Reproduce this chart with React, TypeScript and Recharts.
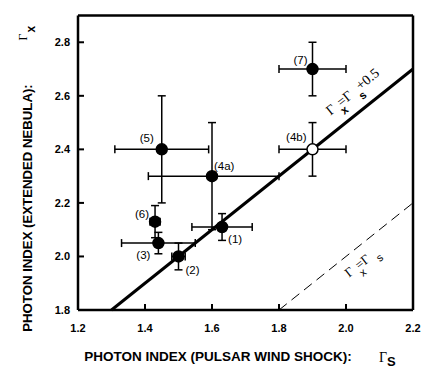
import {
  ErrorBar,
  ReferenceDot,
  ReferenceLine,
  Scatter,
  ScatterChart,
  XAxis,
  YAxis,
} from "recharts";

// photon indices
const pointNames = ["(1)", "(2)", "(3)", "(4a)", "(4b)", "(5)", "(6)", "(7)"];
const gammaS = [1.63, 1.5, 1.44, 1.6, 1.9, 1.45, 1.43, 1.9];
const gammaX = [2.11, 2.0, 2.05, 2.3, 2.4, 2.4, 2.13, 2.7];
const gammaSErrLow = [0.09, 0.02, 0.11, 0.19, 0.1, 0.14, 0.015, 0.1];
const gammaSErrHigh = [0.09, 0.02, 0.11, 0.2, 0.1, 0.14, 0.015, 0.1];
const gammaXErrLow = [0.05, 0.05, 0.04, 0.2, 0.1, 0.2, 0.06, 0.1];
const gammaXErrHigh = [0.05, 0.05, 0.04, 0.2, 0.1, 0.2, 0.06, 0.1];
const openPoints = ["(4b)"];

// Γx = Γs + 0.5 and Γx = Γs
const offsetLineS = [1.3, 2.2];
const offsetLineX = [1.8, 2.7];
const equalLineS = [1.8, 2.2];
const equalLineX = [1.8, 2.2];

const xTicks = [1.2, 1.4, 1.6, 1.8, 2.0, 2.2];
const yTicks = [1.8, 2.0, 2.2, 2.4, 2.6, 2.8];

const sans = "'Liberation Sans', Arial, sans-serif";
const serif = "'Liberation Serif', 'Times New Roman', serif";
const lineAngle = -38.6;

// where each point label sits relative to its marker
const labelOffsets: Record<string, [number, number, "start" | "end"]> = {
  "(1)": [6, 16, "start"],
  "(2)": [7, 18, "start"],
  "(3)": [-8, 16, "end"],
  "(4a)": [2, -6, "start"],
  "(4b)": [-6, -8, "end"],
  "(5)": [-8, -7, "end"],
  "(6)": [-6, -4, "end"],
  "(7)": [-5, -5, "end"],
};

const data = pointNames.map((name, i) => ({
  name,
  s: gammaS[i],
  x: gammaX[i],
  errS: [gammaSErrLow[i], gammaSErrHigh[i]],
  errX: [gammaXErrLow[i], gammaXErrHigh[i]],
  open: openPoints.includes(name),
}));

const axisLine = { stroke: "#000", strokeWidth: 2.5 };
const tickLine = { stroke: "#000", strokeWidth: 2 };
const tickStyle = { fontFamily: sans, fontSize: 11, fontWeight: "bold", fill: "#000" };
const fmt = (v: number) => v.toFixed(1);

function renderPoint(props: any) {
  const { cx, cy, payload } = props;
  const [dx, dy, anchor] = labelOffsets[payload.name];
  return (
    <g>
      <circle
        cx={cx}
        cy={cy}
        r={5.5}
        fill={payload.open ? "#fff" : "#000"}
        stroke="#000"
        strokeWidth={1.5}
      />
      <text
        x={cx + dx}
        y={cy + dy}
        textAnchor={anchor}
        fontFamily={sans}
        fontSize={11.5}
        fill="#000"
      >
        {payload.name}
      </text>
    </g>
  );
}

function OffsetLineLabel(props: any) {
  const { cx, cy } = props;
  return (
    <text
      x={cx}
      y={cy}
      transform={`rotate(${lineAngle} ${cx} ${cy})`}
      fontFamily={serif}
      fontSize={14}
      fill="#000"
    >
      Γ
      <tspan fontFamily={sans} fontWeight="bold" fontSize={11.5} dx={3} dy={8}>
        x
      </tspan>
      <tspan dx={-4} dy={-8}>=Γ</tspan>
      <tspan fontFamily={sans} fontWeight="bold" fontSize={11.5} dx={5} dy={8}>
        s
      </tspan>
      <tspan dx={-2} dy={-9}>+0.5</tspan>
    </text>
  );
}

function EqualLineLabel(props: any) {
  const { cx, cy } = props;
  return (
    <text
      x={cx}
      y={cy}
      transform={`rotate(${lineAngle} ${cx} ${cy})`}
      fontFamily={serif}
      fontSize={13}
      fill="#000"
    >
      Γ
      <tspan fontFamily={sans} fontSize={11} dx={4} dy={8}>
        x
      </tspan>
      <tspan dx={-4} dy={-8}>=Γ</tspan>
      <tspan fontFamily={sans} fontSize={11} dx={6} dy={7}>
        s
      </tspan>
    </text>
  );
}

function XTitle(props: any) {
  const { x, y } = props.viewBox;
  return (
    <g>
      <text
        x={x + 140}
        y={y + 51}
        textAnchor="middle"
        fontFamily={sans}
        fontSize={13.5}
        fontWeight="bold"
        fill="#000"
      >
        PHOTON INDEX (PULSAR WIND SHOCK):
      </text>
      <text x={x + 301} y={y + 52} fontFamily={serif} fontSize={14} fill="#000">
        Γ
        <tspan fontFamily={sans} fontWeight="bold" fontSize={13} dy={4}>
          S
        </tspan>
      </text>
    </g>
  );
}

function YTitle(props: any) {
  const { x, y } = props.viewBox;
  const cx = x + 24;
  const cy = y + 192.5;
  const gx = x + 19;
  const gy = y + 25;
  return (
    <g>
      <text
        x={cx}
        y={cy}
        transform={`rotate(-90 ${cx} ${cy})`}
        textAnchor="middle"
        fontFamily={sans}
        fontSize={13.2}
        fontWeight="bold"
        fill="#000"
      >
        PHOTON INDEX (EXTENDED NEBULA):
      </text>
      <text
        x={gx}
        y={gy}
        transform={`rotate(-90 ${gx} ${gy})`}
        fontFamily={serif}
        fontSize={12}
        fill="#000"
      >
        Γ
        <tspan fontFamily={sans} fontWeight="bold" fontSize={12} dx={1} dy={8}>
          x
        </tspan>
      </text>
    </g>
  );
}

export default function App() {
  return (
    <div style={{ background: "#fff" }}>
      <ScatterChart
        width={420}
        height={361}
        margin={{ top: 6.5, right: 14, bottom: 0, left: 0 }}
      >
        <XAxis
          type="number"
          dataKey="s"
          domain={[1.2, 2.2]}
          ticks={xTicks}
          tickFormatter={fmt}
          height={59}
          tickSize={-6}
          tickMargin={20}
          axisLine={axisLine}
          tickLine={tickLine}
          tick={tickStyle}
          label={{ content: XTitle }}
        />
        <XAxis
          xAxisId="top"
          orientation="top"
          type="number"
          domain={[1.2, 2.2]}
          ticks={xTicks}
          height={1}
          tickSize={-6}
          axisLine={axisLine}
          tickLine={tickLine}
          tick={false}
        />
        <YAxis
          type="number"
          dataKey="x"
          domain={[1.8, 2.9]}
          ticks={yTicks}
          tickFormatter={fmt}
          width={70}
          tickSize={-6}
          tickMargin={14}
          axisLine={axisLine}
          tickLine={tickLine}
          tick={tickStyle}
          label={{ content: YTitle }}
        />
        <YAxis
          yAxisId="right"
          orientation="right"
          type="number"
          domain={[1.8, 2.9]}
          ticks={yTicks}
          width={1}
          tickSize={-6}
          axisLine={axisLine}
          tickLine={tickLine}
          tick={false}
        />
        <ReferenceLine
          segment={[
            { x: equalLineS[0], y: equalLineX[0] },
            { x: equalLineS[1], y: equalLineX[1] },
          ]}
          stroke="#000"
          strokeWidth={1}
          strokeDasharray="10 6"
        />
        <ReferenceLine
          segment={[
            { x: offsetLineS[0], y: offsetLineX[0] },
            { x: offsetLineS[1], y: offsetLineX[1] },
          ]}
          stroke="#000"
          strokeWidth={3}
        />
        <ReferenceDot x={1.954} y={2.526} r={0} shape={OffsetLineLabel} />
        <ReferenceDot x={2.009} y={1.92} r={0} shape={EqualLineLabel} />
        <Scatter data={data} shape={renderPoint} isAnimationActive={false}>
          <ErrorBar
            dataKey="errS"
            direction="x"
            width={4}
            stroke="#000"
            strokeWidth={1.5}
            isAnimationActive={false}
          />
          <ErrorBar
            dataKey="errX"
            direction="y"
            width={4}
            stroke="#000"
            strokeWidth={1.5}
            isAnimationActive={false}
          />
        </Scatter>
      </ScatterChart>
    </div>
  );
}
